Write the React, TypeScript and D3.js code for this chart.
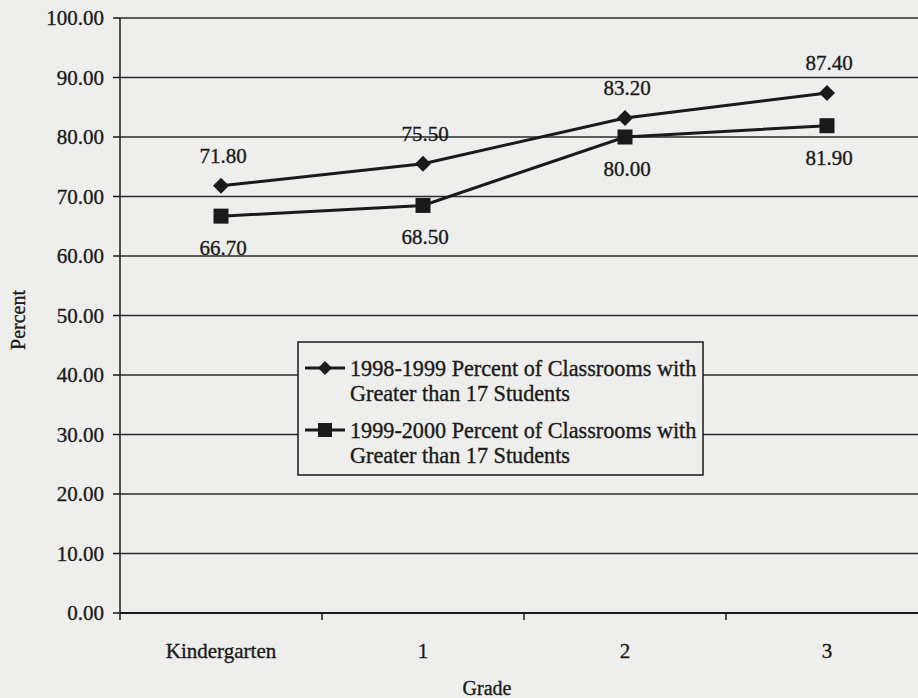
import React from "react";
import * as d3 from "d3";

const categories = ["Kindergarten", "1", "2", "3"];
const series1999 = [71.8, 75.5, 83.2, 87.4];
const series2000 = [66.7, 68.5, 80.0, 81.9];
const seriesNames = [
  ["1998-1999 Percent of Classrooms with", "Greater than 17 Students"],
  ["1999-2000 Percent of Classrooms with", "Greater than 17 Students"],
];
const yTicks = [0, 10, 20, 30, 40, 50, 60, 70, 80, 90, 100];

const W = 918;
const H = 698;
const left = 120;
const right = 928;
const top = 18;
const bottom = 613;
const ink = "#1a1a1a";
const font = "'Liberation Serif', 'Times New Roman', serif";
const txt = { fill: ink, stroke: ink, strokeWidth: 0.35 };

export default function App() {
  const x = d3.scaleBand<string>().domain(categories).range([left, right]).padding(0);
  const y = d3.scaleLinear().domain([0, 100]).range([bottom, top]);
  const cx = (c: string) => (x(c) as number) + x.bandwidth() / 2;
  const line = d3
    .line<number>()
    .x((_, i) => cx(categories[i]))
    .y((d) => y(d));

  const diamond = (px: number, py: number, r: number) =>
    `M${px},${py - r}L${px + r},${py}L${px},${py + r}L${px - r},${py}Z`;

  const legX = 298;
  const legY = 342;
  const legW = 405;
  const legH = 133;

  return (
    <svg
      width={W}
      height={H}
      style={{ position: "absolute", left: 0, top: 0, background: "#eeeeec" }}
      fontFamily={font}
    >
      <rect x={0} y={0} width={W} height={H} fill="#eeeeec" />
      {yTicks.map((t) => (
        <line key={t} x1={left} x2={W} y1={y(t)} y2={y(t)} stroke="#2a2a2a" strokeWidth={1.4} />
      ))}
      <line x1={left} x2={left} y1={top} y2={bottom} stroke={ink} strokeWidth={1.5} />
      {yTicks.map((t) => (
        <g key={"yt" + t}>
          <line x1={left - 7} x2={left} y1={y(t)} y2={y(t)} stroke={ink} strokeWidth={1.5} />
          <text x={104} y={y(t)} textAnchor="end" dominantBaseline="central" fontSize={21} {...txt}>
            {t.toFixed(2)}
          </text>
        </g>
      ))}
      <line x1={left} x2={W} y1={bottom} y2={bottom} stroke={ink} strokeWidth={2} />
      {categories.map((c) => (
        <line
          key={"xt" + c}
          x1={x(c) as number}
          x2={x(c) as number}
          y1={bottom}
          y2={bottom + 7}
          stroke={ink}
          strokeWidth={1.5}
        />
      ))}
      {categories.map((c) => (
        <text key={"xl" + c} x={cx(c)} y={651} textAnchor="middle" dominantBaseline="central" fontSize={21} {...txt}>
          {c}
        </text>
      ))}
      <text x={487} y={688} textAnchor="middle" dominantBaseline="central" fontSize={20} {...txt}>
        Grade
      </text>
      <text
        transform={`translate(18,320) rotate(-90)`}
        textAnchor="middle"
        dominantBaseline="central"
        fontSize={20}
        {...txt}
      >
        Percent
      </text>

      <path d={line(series2000) || ""} fill="none" stroke={ink} strokeWidth={3} />
      <path d={line(series1999) || ""} fill="none" stroke={ink} strokeWidth={3} />
      {series1999.map((v, i) => (
        <g key={"a" + i}>
          <path d={diamond(cx(categories[i]), y(v), 8)} fill={ink} />
          <text x={cx(categories[i]) + 2} y={y(v) - 30} textAnchor="middle" dominantBaseline="central" fontSize={21} {...txt}>
            {v.toFixed(2)}
          </text>
        </g>
      ))}
      {series2000.map((v, i) => (
        <g key={"b" + i}>
          <rect x={cx(categories[i]) - 7.5} y={y(v) - 7.5} width={15} height={15} fill={ink} />
          <text x={cx(categories[i]) + 2} y={y(v) + 32} textAnchor="middle" dominantBaseline="central" fontSize={21} {...txt}>
            {v.toFixed(2)}
          </text>
        </g>
      ))}

      <rect x={legX} y={legY} width={legW} height={legH} fill="#eeeeec" stroke={ink} strokeWidth={1.5} />
      {seriesNames.map((lines, i) => {
        const ly = legY + 26 + i * 62;
        const mx = legX + 27;
        return (
          <g key={"leg" + i}>
            <line x1={legX + 7} x2={legX + 47} y1={ly} y2={ly} stroke={ink} strokeWidth={3} />
            {i === 0 ? (
              <path d={diamond(mx, ly, 7)} fill={ink} />
            ) : (
              <rect x={mx - 7} y={ly - 7} width={14} height={14} fill={ink} />
            )}
            {lines.map((t, j) => (
              <text
                key={j}
                x={legX + 52}
                y={ly + j * 25}
                dominantBaseline="central"
                fontSize={22.2}
                {...txt}
              >
                {t}
              </text>
            ))}
          </g>
        );
      })}
    </svg>
  );
}
